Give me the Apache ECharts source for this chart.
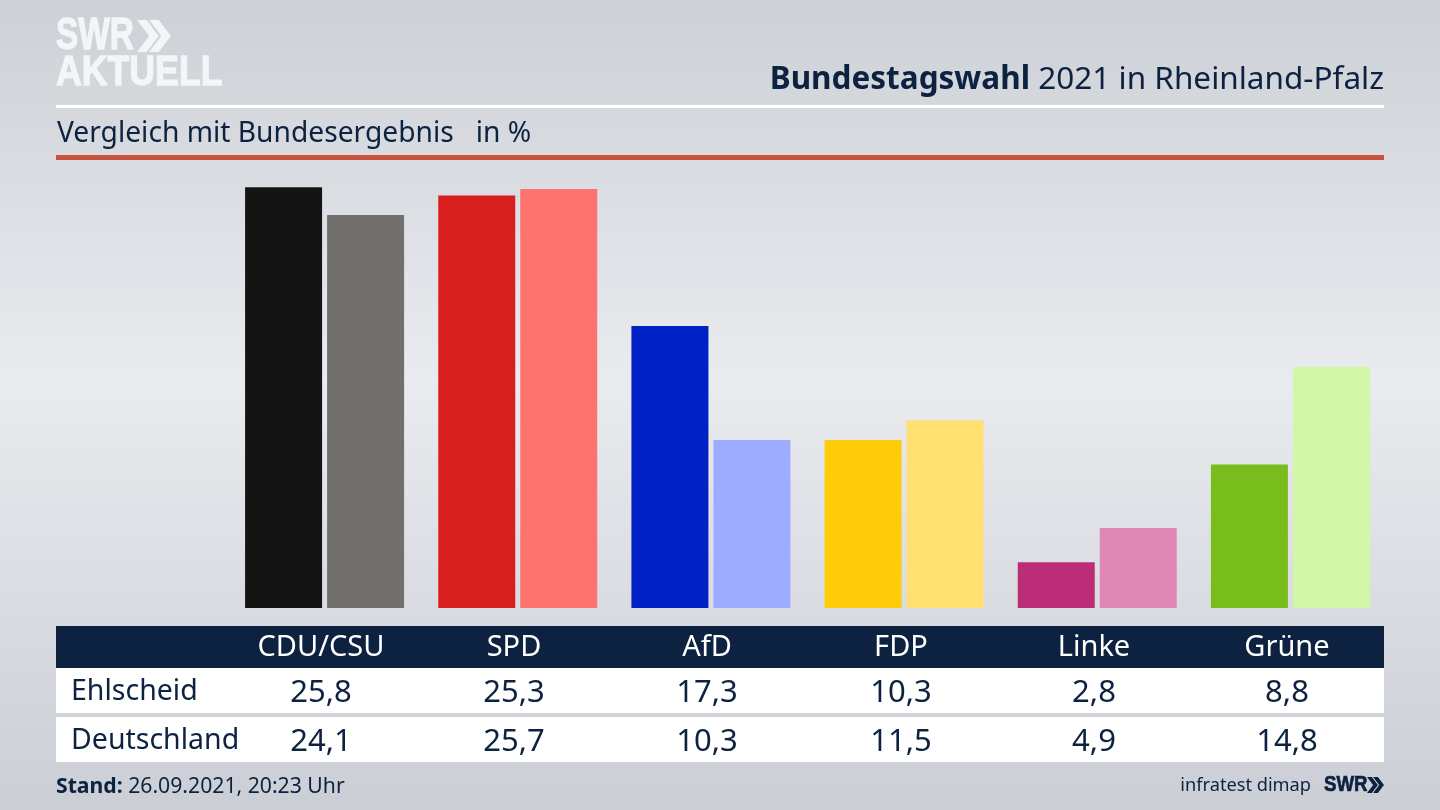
<!DOCTYPE html>
<html>
<head>
<meta charset="utf-8">
<title>Bundestagswahl 2021 in Rheinland-Pfalz</title>
<style>
  html, body { margin: 0; padding: 0; }
  #main { width: 1440px; height: 810px; }
</style>
<script src="https://cdn.jsdelivr.net/npm/echarts@6/dist/echarts.min.js"></script>
</head>
<body>
<div id="main"></div>
<script>
var parties = ['CDU/CSU', 'SPD', 'AfD', 'FDP', 'Linke', 'Grüne'];
var rowNames = ['Ehlscheid', 'Deutschland'];
var ehlscheid = [25.8, 25.3, 17.3, 10.3, 2.8, 8.8];
var deutschland = [24.1, 25.7, 10.3, 11.5, 4.9, 14.8];
var ehlscheidColors = ['#141414', '#d7201d', '#0022c4', '#ffcc0a', '#bb2d76', '#79bd1c'];
var deutschlandColors = ['#71706c', '#ff736e', '#9dacff', '#ffe070', '#df88b6', '#d4f6a8'];

var navy = '#0c2240';
var font = '"Noto Sans", sans-serif';
var logoFont = '"Liberation Sans", sans-serif';
var columnX = [321, 514, 707, 901, 1094, 1287];

function label(text, x, y, size, align, color) {
  return {
    type: 'text', z: 10,
    style: {
      text: text, x: x, y: y, fill: color || navy,
      font: size + 'px ' + font, align: align || 'left', verticalAlign: 'middle'
    }
  };
}

function rect(x, y, w, h, color) {
  return { type: 'rect', z: 5, shape: { x: x, y: y, width: w, height: h }, style: { fill: color } };
}

// schmale Logo-Schrift: keine Narrow installiert, also per scaleX gestaucht
function logoText(text, x, y, size, scaleX, color) {
  return {
    type: 'text', z: 10, x: x, y: y, scaleX: scaleX,
    style: {
      text: text, x: 0, y: 0, fill: color, align: 'left', verticalAlign: 'middle',
      font: 'bold ' + size + 'px ' + logoFont, stroke: color, lineWidth: size * 0.03
    }
  };
}

function chevrons(x, y, h, color) {
  // doppelter Pfeil vom SWR-Logo
  var w = h * 0.38, t = h * 0.3, out = [];
  [0, h * 0.38].forEach(function (dx) {
    out.push({
      type: 'polygon', z: 10,
      shape: { points: [[x + dx, y], [x + dx + t, y], [x + dx + t + w, y + h / 2], [x + dx + t, y + h], [x + dx, y + h], [x + dx + w, y + h / 2]] },
      style: { fill: color }
    });
  });
  return out;
}

var graphics = [
  rect(56, 105, 1328, 3, '#ffffff'),
  rect(56, 155, 1328, 5, '#c8513f'),
  rect(56, 626, 1328, 42, navy),
  rect(56, 668, 1328, 45, '#ffffff'),
  rect(56, 717, 1328, 45, '#ffffff'),
  logoText('SWR', 56, 37, 44, 0.76, '#f4f5f7'),
  logoText('AKTUELL', 56, 73, 43, 0.83, '#f4f5f7'),
  {
    type: 'text', z: 10,
    style: {
      text: '{b|Bundestagswahl} 2021 in Rheinland-Pfalz', x: 1384, y: 80, align: 'right', verticalAlign: 'middle',
      fill: navy, font: '31.5px ' + font,
      rich: { b: { font: 'bold 31.5px ' + font, fill: navy } }
    }
  },
  label('Vergleich mit Bundesergebnis   in %', 57, 134, 28.2),
  {
    type: 'text', z: 10,
    style: {
      text: '{b|Stand:} 26.09.2021, 20:23 Uhr', x: 56, y: 787, align: 'left', verticalAlign: 'middle',
      fill: navy, font: '21.2px ' + font,
      rich: { b: { font: 'bold 21.2px ' + font, fill: navy } }
    }
  },
  label('infratest dimap', 1311, 786, 18.2, 'right'),
  logoText('SWR', 1324, 785, 22, 0.85, navy)
];
graphics = graphics.concat(chevrons(137, 20, 32, '#f4f5f7'), chevrons(1367, 777, 16, navy));

parties.forEach(function (p, i) {
  graphics.push(label(p, columnX[i], 648, 29, 'center', '#ffffff'));
  graphics.push(label(ehlscheid[i].toFixed(1).replace('.', ','), columnX[i], 693, 31, 'center'));
  graphics.push(label(deutschland[i].toFixed(1).replace('.', ','), columnX[i], 742, 31, 'center'));
});
graphics.push(label(rowNames[0], 71, 692, 28.5));
graphics.push(label(rowNames[1], 71, 741, 28.5));

var chart = echarts.init(document.getElementById('main'));
chart.setOption({
  animation: false,
  backgroundColor: new echarts.graphic.LinearGradient(0, 0, 0, 1, [
    { offset: 0, color: '#cdd0d6' },
    { offset: 0.47, color: '#e9ebef' },
    { offset: 1, color: '#cbced4' }
  ]),
  grid: { left: 228, right: 53, top: 151.5, bottom: 202 },
  xAxis: {
    type: 'category', data: parties,
    axisLine: { show: false }, axisTick: { show: false }, axisLabel: { show: false }
  },
  yAxis: { type: 'value', min: 0, max: 28, show: false },
  series: [
    {
      name: rowNames[0], type: 'bar', data: ehlscheid, barWidth: 77, barGap: '6.5%',
      itemStyle: { color: function (p) { return ehlscheidColors[p.dataIndex]; } }
    },
    {
      name: rowNames[1], type: 'bar', data: deutschland, barWidth: 77,
      itemStyle: { color: function (p) { return deutschlandColors[p.dataIndex]; } }
    }
  ],
  graphic: graphics
});
</script>
</body>
</html>
